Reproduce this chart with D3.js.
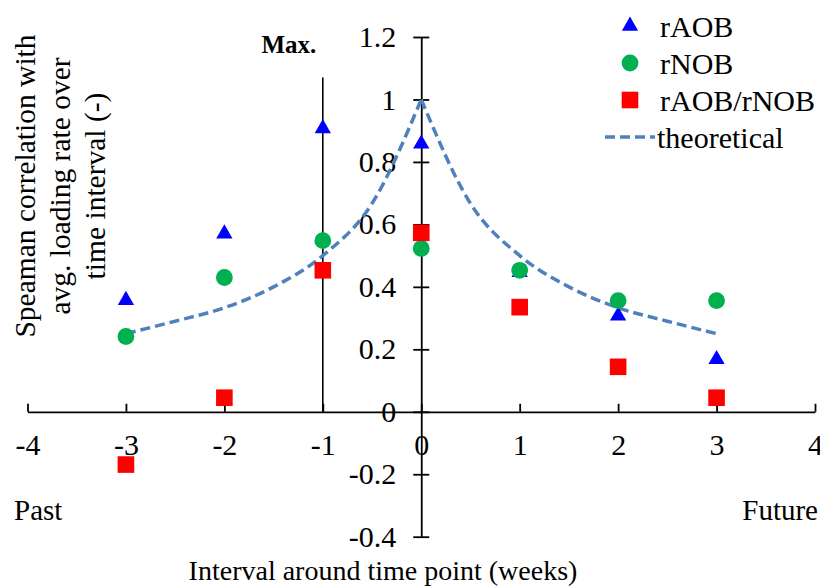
<!DOCTYPE html>
<meta charset="utf-8">
<script src="https://d3js.org/d3.v7.min.js"></script>
<style>
  body { margin: 0; background: #fff; }
  text { font-family: "Liberation Serif", "Times New Roman", serif; fill: #000; }
</style>
<div id="my_dataviz"></div>
<script>

  // data
  var weeks = [-3, -2, -1, 0, 1, 2, 3];
  var rAOB = [0.357, 0.570, 0.907, 0.858, 0.447, 0.307, 0.168];
  var rNOB = [0.241, 0.430, 0.548, 0.523, 0.453, 0.356, 0.356];
  var ratio = [-0.169, 0.045, 0.453, 0.573, 0.335, 0.144, 0.045];

  // theoretical curve
  var theoX = [-3, -2.5, -2, -1.5, -1, -0.5, 0, 0.5, 1, 1.5, 2, 2.5, 3];
  var theoY = [0.25, 0.29, 0.333, 0.40, 0.50, 0.667, 1.0, 0.667, 0.50, 0.40, 0.333, 0.29, 0.25];

  var xTicks = [-4, -3, -2, -1, 0, 1, 2, 3, 4];
  var yTicks = [-0.4, -0.2, 0, 0.2, 0.4, 0.6, 0.8, 1, 1.2];
  var maxLine = {x: -1, top: 1.07};

  var legendNames = ["rAOB", "rNOB", "rAOB/rNOB", "theoretical"];

  var width = 820, height = 586;

  var svg = d3.select("#my_dataviz")
    .append("svg")
      .attr("width", width)
      .attr("height", height);

  var x = d3.scaleLinear().domain([-4, 4]).range([27.5, 815]);
  var y = d3.scaleLinear().domain([-0.4, 1.2]).range([536.7, 37]);

  var fmt = function(d) { return String(d).replace("\u2212", "-"); };

  // x axis through y = 0, ticks pointing up
  var gx = svg.append("g")
      .attr("transform", "translate(0," + y(0) + ")")
      .call(d3.axisBottom(x).tickValues(xTicks).tickSizeInner(-8).tickSizeOuter(0).tickFormat(fmt));
  gx.select(".domain").attr("stroke", "#000").attr("stroke-width", 1.8);
  gx.selectAll(".tick line").attr("stroke", "#000").attr("stroke-width", 1.8);
  gx.selectAll(".tick text")
      .attr("y", 0)
      .attr("dy", "1.45em")
      .style("font-family", "Liberation Serif")
      .style("font-size", "30px");

  // y axis through x = 0, ticks crossing the line
  var gy = svg.append("g")
      .attr("transform", "translate(" + x(0) + ",0)")
      .call(d3.axisLeft(y).tickValues(yTicks).tickSize(0).tickPadding(25)
        .tickFormat(function(d) { return fmt(d3.format("")(+d.toFixed(1))); }));
  gy.select(".domain").attr("stroke", "#000").attr("stroke-width", 1.8);
  gy.selectAll(".tick line")
      .attr("x1", -8).attr("x2", 8)
      .attr("stroke", "#000").attr("stroke-width", 1.8);
  gy.selectAll(".tick text")
      .style("font-family", "Liberation Serif")
      .style("font-size", "30px");

  // max marker line
  svg.append("line")
      .attr("x1", x(maxLine.x)).attr("x2", x(maxLine.x))
      .attr("y1", y(maxLine.top)).attr("y2", y(0))
      .attr("stroke", "#000")
      .attr("stroke-width", 1.6);
  svg.append("text")
      .attr("x", x(maxLine.x) - 34)
      .attr("y", 53)
      .attr("text-anchor", "middle")
      .style("font-weight", "bold")
      .style("font-size", "25px")
      .text("Max.");

  // theoretical, split at the peak so it stays sharp
  var theo = theoX.map(function(d, i) { return [d, theoY[i]]; });
  var line = d3.line()
      .x(function(d) { return x(d[0]); })
      .y(function(d) { return y(d[1]); })
      .curve(d3.curveMonotoneX);
  [theo.filter(function(d) { return d[0] <= 0; }),
   theo.filter(function(d) { return d[0] >= 0; })].forEach(function(part) {
    svg.append("path")
        .attr("d", line(part))
        .attr("fill", "none")
        .attr("stroke", "#4F81BD")
        .attr("stroke-width", 3.5)
        .attr("stroke-dasharray", "10,5");
  });

  var tri = d3.symbol().type(d3.symbolTriangle).size(115);

  // points
  svg.selectAll(".aob")
      .data(weeks)
    .enter().append("path")
      .attr("d", tri)
      .attr("transform", function(d, i) { return "translate(" + x(d) + "," + y(rAOB[i]) + ")"; })
      .attr("fill", "#0000FF");

  svg.selectAll(".nob")
      .data(weeks)
    .enter().append("circle")
      .attr("cx", function(d) { return x(d); })
      .attr("cy", function(d, i) { return y(rNOB[i]); })
      .attr("r", 8.4)
      .attr("fill", "#00B050");

  svg.selectAll(".ratio")
      .data(weeks)
    .enter().append("rect")
      .attr("x", function(d) { return x(d) - 8.3; })
      .attr("y", function(d, i) { return y(ratio[i]) - 8.3; })
      .attr("width", 16.6)
      .attr("height", 16.6)
      .attr("fill", "#FF0000");

  // legend
  var lg = svg.append("g");
  var rowY = [26, 63, 100, 137];
  lg.append("path").attr("d", tri).attr("transform", "translate(630," + rowY[0] + ")").attr("fill", "#0000FF");
  lg.append("circle").attr("cx", 630).attr("cy", rowY[1]).attr("r", 8.4).attr("fill", "#00B050");
  lg.append("rect").attr("x", 621.7).attr("y", rowY[2] - 8.3).attr("width", 16.6).attr("height", 16.6).attr("fill", "#FF0000");
  lg.append("line")
      .attr("x1", 605).attr("x2", 655)
      .attr("y1", rowY[3]).attr("y2", rowY[3])
      .attr("stroke", "#4F81BD")
      .attr("stroke-width", 3.5)
      .attr("stroke-dasharray", "10,5");
  lg.selectAll("text")
      .data(legendNames)
    .enter().append("text")
      .attr("x", function(d, i) { return i == 3 ? 657 : 660; })
      .attr("y", function(d, i) { return rowY[i]; })
      .attr("dy", "0.35em")
      .style("font-size", "30px")
      .text(function(d) { return d; });

  // axis titles
  svg.append("text")
      .attr("x", 383)
      .attr("y", 580)
      .attr("text-anchor", "middle")
      .style("font-size", "28px")
      .text("Interval around time point (weeks)");

  var ytitle = ["Speaman correlation with", "avg. loading rate over", "time interval (-)"];
  svg.selectAll(".ytitle")
      .data(ytitle)
    .enter().append("text")
      .attr("transform", function(d, i) { return "translate(" + (35 + i * 35) + ",186) rotate(-90)"; })
      .attr("text-anchor", "middle")
      .style("font-size", "29.5px")
      .text(function(d) { return d; });

  svg.append("text")
      .attr("x", 14)
      .attr("y", 520)
      .style("font-size", "29px")
      .text("Past");
  svg.append("text")
      .attr("x", 818)
      .attr("y", 520)
      .attr("text-anchor", "end")
      .style("font-size", "29px")
      .text("Future");

</script>
